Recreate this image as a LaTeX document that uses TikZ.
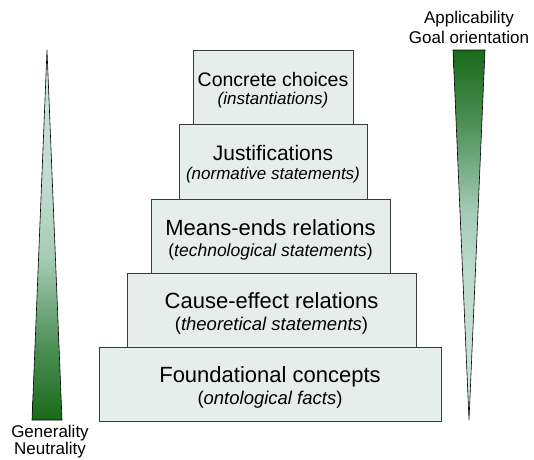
\documentclass[tikz,border=0pt]{standalone}
\usepackage{fontspec}
\setmainfont{Liberation Sans}
\usetikzlibrary{shadows}
\definecolor{boxfill}{HTML}{E6EEEB}
\definecolor{boxline}{HTML}{3A3A3A}
\definecolor{gA}{HTML}{196A19}
\definecolor{gB}{HTML}{4E9057}
\definecolor{gC}{HTML}{A5CCB6}
\definecolor{gD}{HTML}{BCDACC}
\definecolor{gE}{HTML}{D2E7DD}
\pgfdeclareverticalshading{greenramp}{100bp}{color(0bp)=(gA); color(25bp)=(gA); color(35bp)=(gB); color(47bp)=(gC); color(55bp)=(gD); color(75bp)=(gE); color(100bp)=(gE)}
\newcommand\bigmain{\fontsize{22}{21.5}\selectfont}
\newcommand\bigsub{\fontsize{18.5}{21.5}\selectfont}
\newcommand\smallmain{\fontsize{19.5}{18.5}\selectfont}
\newcommand\smallsub{\fontsize{17}{18.5}\selectfont}
\tikzset{
  layer/.style={draw=boxline, fill=boxfill, line width=0.9pt, inner sep=0pt, align=center,
    drop shadow={shadow xshift=1.2pt, shadow yshift=-1.2pt, fill=black, opacity=0.22}},
  lowlayer/.style={layer, font=\bigmain},
  highlayer/.style={layer, font=\smallmain},
  tri/.style={draw=black, line width=0.6pt, shading=greenramp},
  lbl/.style={align=center, inner sep=0pt}
}
\begin{document}
\begin{tikzpicture}[x=1pt,y=-1pt]
\useasboundingbox (0,0) rectangle (534,459);
% triangles
\draw[tri] (32,420) -- (62,420) -- (47,50) -- cycle;
\draw[tri, shading angle=180] (453,50) -- (485,50) -- (469,420) -- cycle;
% layers, top first
\node[highlayer, minimum width=160pt, minimum height=74pt] (concrete) at (273,87)
  {\rule{0pt}{20.2pt}Concrete choices\\{\smallsub\itshape (instantiations)}};
\node[highlayer, minimum width=188pt, minimum height=75pt] (justif) at (273,161.5)
  {\rule{0pt}{20.2pt}\fontsize{21}{18.5}\selectfont Justifications\\{\smallsub\itshape (normative statements)}};
\node[lowlayer, minimum width=239pt, minimum height=74pt] (means) at (270.5,236)
  {\rule{0pt}{23.3pt}Means-ends relations\\{\fontsize{17.5}{21.5}\selectfont (\textit{technological statements})}};
\node[lowlayer, minimum width=289pt, minimum height=74pt] (cause) at (271.5,310)
  {\rule{0pt}{23.3pt}Cause-effect relations\\{\bigsub (\textit{theoretical statements})}};
\node[lowlayer, minimum width=342pt, minimum height=74pt] (found) at (270,384)
  {\rule{0pt}{23.3pt}Foundational concepts\\{\bigsub (\textit{ontological facts})}};
% labels
\node[lbl, anchor=base, font=\fontsize{17}{16.5}\selectfont] (general) at (50,454) {Generality\\Neutrality};
\node[lbl, anchor=base, font=\fontsize{17}{20}\selectfont] (applic) at (469,43) {Applicability\\Goal orientation};
\end{tikzpicture}
\end{document}
